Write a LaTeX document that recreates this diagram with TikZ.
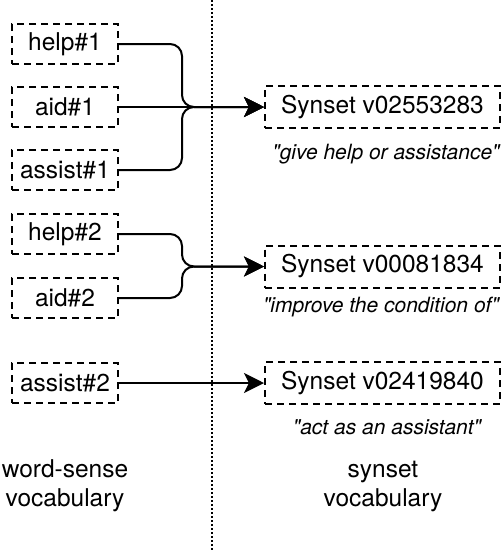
\documentclass[tikz,border=0pt]{standalone}
\usepackage{fontspec}
\setmainfont{TeX Gyre Heros}
\usetikzlibrary{arrows.meta,positioning}

\begin{document}
\begin{tikzpicture}[
			x = 1pt, y = -1pt,
			every node/.style = {font=\fontsize{24.5}{29}\selectfont},
			sense/.style = {draw, line width=2pt, dash pattern=on 7pt off 5pt,
				minimum width=106pt, minimum height=40pt, inner sep=0pt},
			synset/.style = {sense, minimum width=235pt, minimum height=42pt},
			gloss/.style = {font=\fontsize{21}{25}\selectfont\itshape, anchor=base},
			link/.style = {line width=2pt, rounded corners=12pt,
				-{Stealth[length=20pt,width=20pt,inset=5pt]}}
			]

			\useasboundingbox (0,0) rectangle (504,550);

			% divider
			\draw[line width=2pt, dash pattern=on 2pt off 2pt] (212,0) -- (212,550);

			% word senses
			\node[sense] (help1) at (65,44) {help\#1};
			\node[sense] (aid1) at (65,107) {aid\#1};
			\node[sense] (assist1) at (65,170) {assist\#1};
			\node[sense] (help2) at (65,234) {help\#2};
			\node[sense] (aid2) at (65,298) {aid\#2};
			\node[sense] (assist2) at (65,383) {assist\#2};

			% synsets
			\node[synset] (syn1) at (382.5,107) {Synset v02553283};
			\node[synset] (syn2) at (382.5,266.5) {Synset v00081834};
			\node[synset] (syn3) at (382.5,383) {Synset v02419840};

			\node[gloss] (gloss1) at (386,159) {\textquotedbl give help or assistance\textquotedbl};
			\node[gloss] (gloss2) at (381,312) {\textquotedbl improve the condition of\textquotedbl};
			\node[gloss] (gloss3) at (387,434) {\textquotedbl act as an assistant\textquotedbl};

			% joins
			\coordinate (join1) at (182,107);
			\coordinate (join2) at (182,266.5);

			\draw[link] (help1.east) -| (join1) -- (syn1.west);
			\draw[link] (aid1.east) -- (syn1.west);
			\draw[link] (assist1.east) -| (join1) -- (syn1.west);
			\draw[link] (help2.east) -| (join2) -- (syn2.west);
			\draw[link] (aid2.east) -| (join2) -- (syn2.west);
			\draw[link] (assist2.east) -- (syn3.west);

			% vocabularies
			\node[align=center, anchor=base] (wordvoc) at (65,506) {word-sense\\vocabulary};
			\node[align=center, anchor=base] (synvoc) at (383,506) {synset\\vocabulary};

		\end{tikzpicture}
\end{document}
